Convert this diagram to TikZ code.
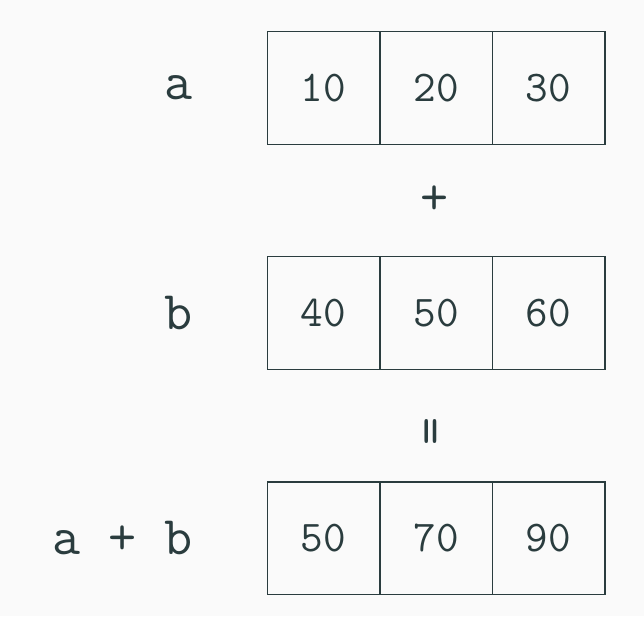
\documentclass[tikz,border=0pt]{standalone}
\usepackage{fontspec}
\usetikzlibrary{positioning}
\usetikzlibrary{matrix}
\usetikzlibrary{calc}
\definecolor{sInk}{HTML}{2A3C3E}
\definecolor{sPaper}{HTML}{FAFAFA}

\begin{document}
\begin{tikzpicture}[
    cell/.style = {draw=sInk, line width=0.85pt, minimum size=2.25cm, outer sep=0pt, inner sep=0pt,
      anchor=center, font=\ttfamily\fontsize{25}{30}\selectfont, text=sInk},
    lbl/.style = {font=\ttfamily\fontsize{31}{37}\selectfont, text=sInk, inner sep=0pt},
    ]

    \fill[sPaper] (0,0) rectangle (12.88,12.32);
    \useasboundingbox (0,0) rectangle (12.88,12.32);

    \matrix[matrix of nodes, column sep=-0.85pt, row sep=2.25cm-0.85pt, ampersand replacement=\&,
      nodes={cell},
      column 1/.style = {nodes={lbl, draw=none, minimum size=0pt, anchor=east}},
      matrix anchor=vec-1-2.center,
    ] (vec) at (6.47,10.56) {
      a \&[1.5cm] 10 \& 20 \& 30 \\
      b \& 40 \& 50 \& 60 \\
      a + b \& 50 \& 70 \& 90 \\
    };

    % operators between the rows
    \node[lbl, xshift=-0.02cm] (plus) at ($(vec-1-3.south)!0.5!(vec-2-3.north)$) {+};
    \node[lbl, rotate=90, xshift=-0.12cm] (equal) at ($(vec-2-3.south)!0.5!(vec-3-3.north)$) {=};

  \end{tikzpicture}
\end{document}
